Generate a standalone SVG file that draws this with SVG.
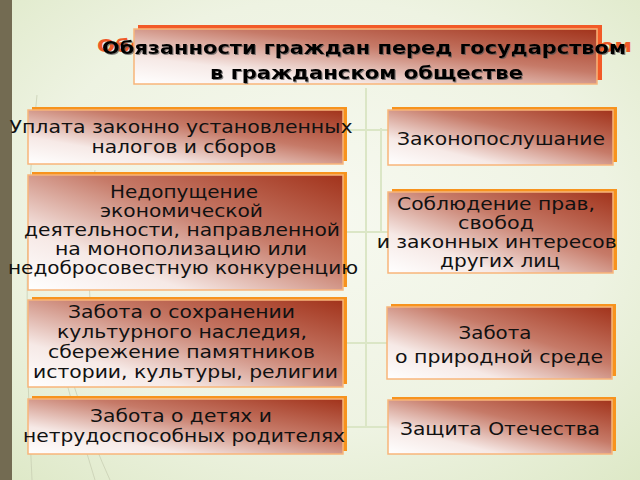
<svg xmlns="http://www.w3.org/2000/svg" width="640" height="480" viewBox="0 0 640 480">
<defs>
<radialGradient id="bg" cx="0.5" cy="0.45" r="0.75">
<stop offset="0" stop-color="#f7f9f0"/>
<stop offset="0.6" stop-color="#eef3e2"/>
<stop offset="1" stop-color="#dde8c6"/>
</radialGradient>
<linearGradient id="face" x1="0" y1="1" x2="1" y2="0">
<stop offset="0" stop-color="#ffffff"/>
<stop offset="0.25" stop-color="#f6e9e6"/>
<stop offset="0.6" stop-color="#c67a68"/>
<stop offset="1" stop-color="#a2331b"/>
</linearGradient>
<filter id="tsh" x="-5%" y="-20%" width="110%" height="140%">
<feDropShadow dx="1" dy="1" stdDeviation="0.6" flood-color="#555" flood-opacity="0.7"/>
</filter>
</defs>
<style>
.sh{fill:#f7931e}
.shr{fill:#f25a28}
.fc{fill:url(#face);stroke:#f8b57a;stroke-width:1.5}
text{font-family:"DejaVu Sans","Noto Sans",sans-serif;text-anchor:middle}
.t{font-size:17.5px;fill:#111}
.tt{font-size:18px;font-weight:bold;fill:#000}
.ln{stroke:#dbe6c6;stroke-width:2;fill:none}
.deco{stroke:#c9cfb4;stroke-width:1;fill:none;opacity:0.8}
</style>
<rect width="640" height="480" fill="url(#bg)"/>
<rect x="0" y="0" width="12" height="480" fill="#736b52"/>
<path class="deco" d="M37 95 Q20 250 32 480"/>
<path class="deco" d="M45 300 Q70 400 95 480"/>
<path class="deco" d="M52 310 Q78 410 110 480"/>
<path class="deco" d="M95 170 Q85 230 90 300"/>
<g id="connectors">
<path class="ln" d="M366 88 V428"/>
<path class="ln" d="M381 128 V232"/>
<path class="ln" d="M345 130 H388"/>
<path class="ln" d="M345 232 H388"/>
<path class="ln" d="M345 343 H388"/>
<path class="ln" d="M345 427 H388"/>
</g>
<g id="title">
<text x="364.5" y="52" class="tt" style="fill:#ef5a28;font-size:18.5px" textLength="535" lengthAdjust="spacingAndGlyphs">Обязанности граждан перед государством</text>
<rect class="shr" x="138" y="25" width="464" height="55"/>
<rect class="fc" x="134" y="29" width="463" height="55"/>
<g filter="url(#tsh)">
<text x="364" y="54" class="tt" textLength="524" lengthAdjust="spacingAndGlyphs">Обязанности граждан перед государством</text>
<text x="366.5" y="79" class="tt" textLength="313" lengthAdjust="spacingAndGlyphs">в гражданском обществе</text>
</g>
</g>
<g id="n1">
<rect class="sh" x="32" y="107" width="315" height="54"/>
<rect class="fc" x="28" y="110" width="315" height="54"/>
<text class="t" x="181" y="133" textLength="343" lengthAdjust="spacingAndGlyphs">Уплата законно установленных</text>
<text class="t" x="184" y="153" textLength="185" lengthAdjust="spacingAndGlyphs">налогов и сборов</text>
</g>
<g id="n2">
<rect class="sh" x="32" y="172" width="315" height="115"/>
<rect class="fc" x="28" y="175" width="315" height="115"/>
<text class="t" x="184" y="198" textLength="148" lengthAdjust="spacingAndGlyphs">Недопущение</text>
<text class="t" x="181.5" y="217" textLength="163" lengthAdjust="spacingAndGlyphs">экономической</text>
<text class="t" x="182" y="236" textLength="316" lengthAdjust="spacingAndGlyphs">деятельности, направленной</text>
<text class="t" x="181" y="255" textLength="252" lengthAdjust="spacingAndGlyphs">на монополизацию или</text>
<text class="t" x="183" y="274" textLength="350" lengthAdjust="spacingAndGlyphs">недобросовестную конкуренцию</text>
</g>
<g id="n3">
<rect class="sh" x="32" y="297" width="315" height="87"/>
<rect class="fc" x="28" y="300" width="315" height="87"/>
<text class="t" x="181.5" y="318" textLength="227" lengthAdjust="spacingAndGlyphs">Забота о сохранении</text>
<text class="t" x="182" y="338" textLength="250" lengthAdjust="spacingAndGlyphs">культурного наследия,</text>
<text class="t" x="181.5" y="358" textLength="267" lengthAdjust="spacingAndGlyphs">сбережение памятников</text>
<text class="t" x="185.5" y="378" textLength="305" lengthAdjust="spacingAndGlyphs">истории, культуры, религии</text>
</g>
<g id="n4">
<rect class="sh" x="32" y="396" width="315" height="55"/>
<rect class="fc" x="28" y="399" width="315" height="55"/>
<text class="t" x="181" y="422" textLength="182" lengthAdjust="spacingAndGlyphs">Забота о детях и</text>
<text class="t" x="184" y="442" textLength="322" lengthAdjust="spacingAndGlyphs">нетрудоспособных родителях</text>
</g>
<g id="n5">
<rect class="sh" x="392" y="107" width="225" height="55"/>
<rect class="fc" x="388" y="110" width="225" height="55"/>
<text class="t" x="501" y="145" textLength="208" lengthAdjust="spacingAndGlyphs">Законопослушание</text>
</g>
<g id="n6">
<rect class="sh" x="392" y="189" width="225" height="81"/>
<rect class="fc" x="388" y="192" width="225" height="81"/>
<text class="t" x="496" y="210" textLength="198" lengthAdjust="spacingAndGlyphs">Соблюдение прав,</text>
<text class="t" x="496" y="229" textLength="76" lengthAdjust="spacingAndGlyphs">свобод</text>
<text class="t" x="496.7" y="248" textLength="240" lengthAdjust="spacingAndGlyphs">и законных интересов</text>
<text class="t" x="500" y="267" textLength="120" lengthAdjust="spacingAndGlyphs">других лиц</text>
</g>
<g id="n7">
<rect class="sh" x="391" y="304" width="225" height="72"/>
<rect class="fc" x="387" y="307" width="225" height="72"/>
<text class="t" x="495" y="339" textLength="73" lengthAdjust="spacingAndGlyphs">Забота</text>
<text class="t" x="499" y="363" textLength="208" lengthAdjust="spacingAndGlyphs">о природной среде</text>
</g>
<g id="n8">
<rect class="sh" x="392" y="397" width="224" height="54"/>
<rect class="fc" x="388" y="400" width="224" height="54"/>
<text class="t" x="500" y="435" textLength="200" lengthAdjust="spacingAndGlyphs">Защита Отечества</text>
</g>
</svg>
